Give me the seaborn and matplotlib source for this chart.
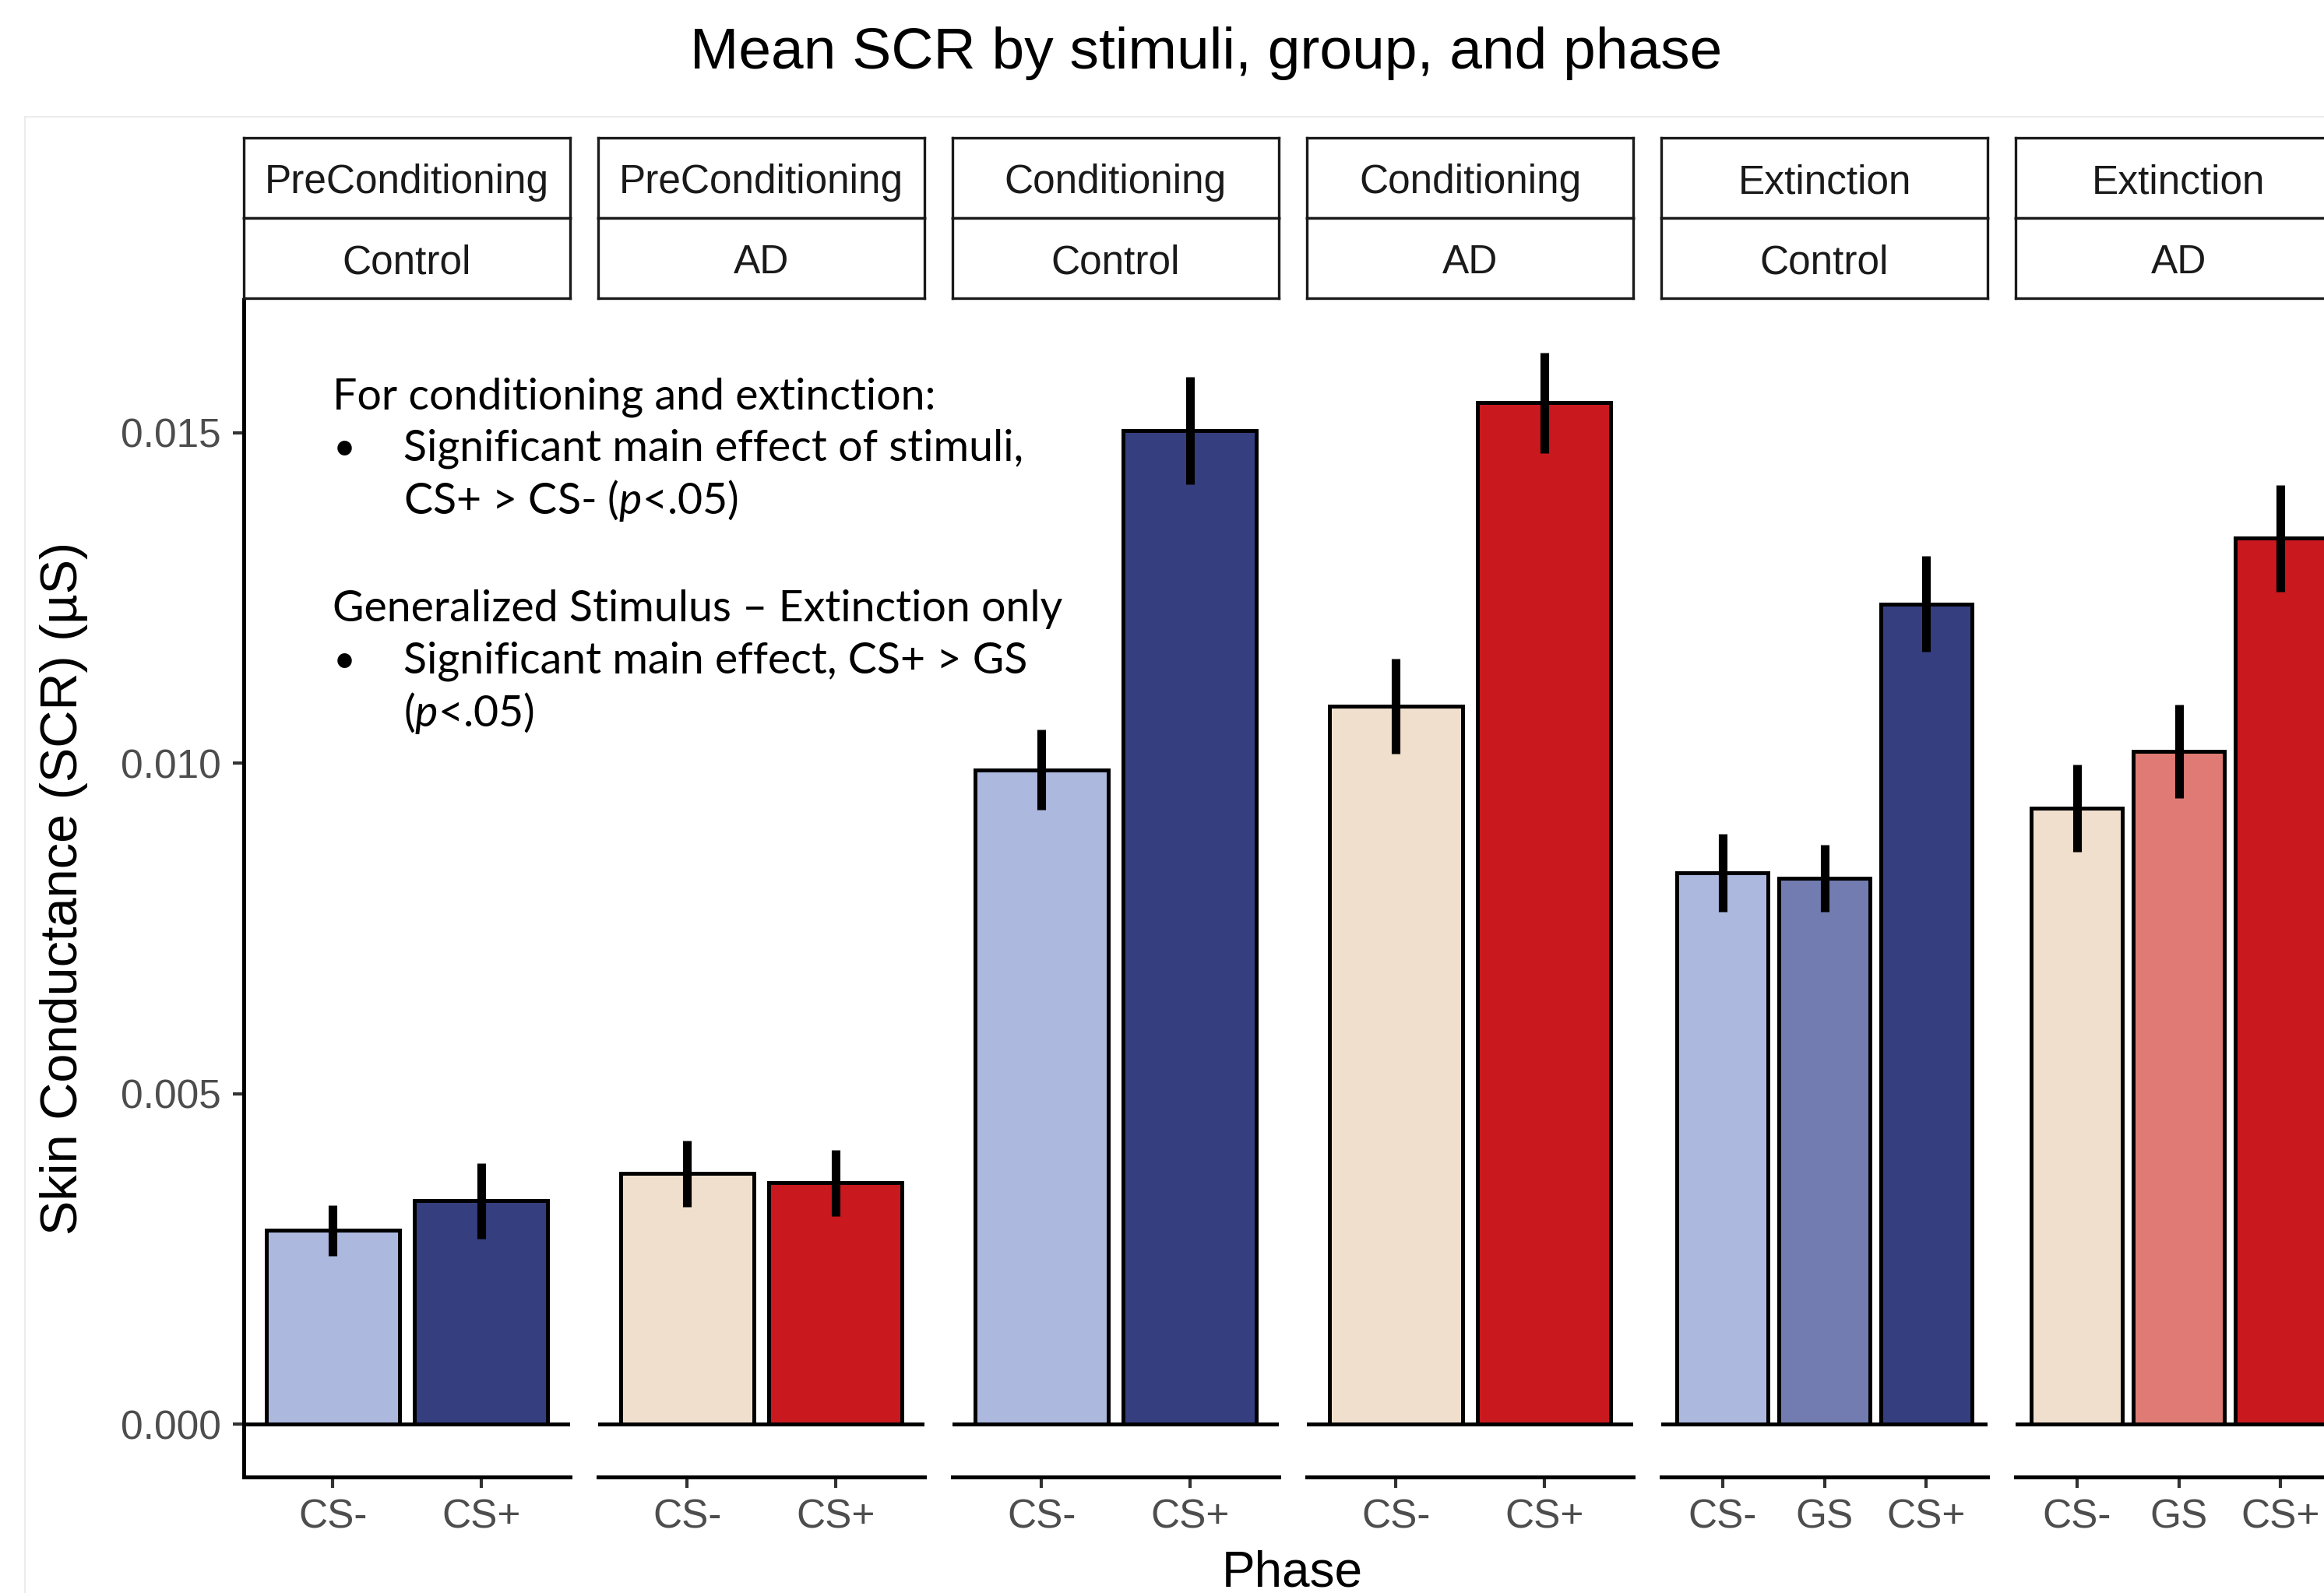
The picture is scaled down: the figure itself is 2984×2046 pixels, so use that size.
import numpy as np
import pandas as pd
import matplotlib
matplotlib.use("Agg")
import matplotlib.pyplot as plt
import seaborn as sns
from matplotlib.lines import Line2D

# data
phase_labels = ["PreConditioning", "PreConditioning", "Conditioning", "Conditioning", "Extinction", "Extinction"]
group_labels = ["Control", "AD", "Control", "AD", "Control", "AD"]
stimuli = [["CS-", "CS+"], ["CS-", "CS+"], ["CS-", "CS+"], ["CS-", "CS+"],
           ["CS-", "GS", "CS+"], ["CS-", "GS", "CS+"]]
mean_scr = [[0.00293, 0.00338], [0.00379, 0.00365], [0.00990, 0.01503], [0.01086, 0.01545],
            [0.00834, 0.00826, 0.01241], [0.00932, 0.01018, 0.01340]]
sem_scr = [[0.00038, 0.00057], [0.00050, 0.00050], [0.00061, 0.00081], [0.00072, 0.00076],
           [0.00059, 0.00051, 0.00072], [0.00066, 0.00071, 0.00081]]
y_ticks = [0.000, 0.005, 0.010, 0.015]

control_colors = {"CS-": "#adb8df", "GS": "#727cb0", "CS+": "#353f7f"}
ad_colors = {"CS-": "#f0dfcd", "GS": "#df7b74", "CS+": "#c9191e"}

sns.set_style("white")
plt.rcParams["font.family"] = ["Liberation Sans", "DejaVu Sans"]
plt.rcParams["text.color"] = "black"
plt.rcParams["mathtext.fontset"] = "custom"
plt.rcParams["mathtext.rm"] = "Lato"
plt.rcParams["mathtext.it"] = "Lato:italic"

W, H = 2984, 2046
fig = plt.figure(figsize=(W / 100, H / 100), dpi=100)

def fx(px):
    return px / W

def fy(py):
    return 1 - py / H

panel_w, step = 419, 455
top, bottom = 385, 1897

for i in range(6):
    left = 313 + step * i
    ax = fig.add_axes([fx(left), fy(bottom), fx(panel_w), (bottom - top) / H])
    df = pd.DataFrame({"stim": stimuli[i], "scr": mean_scr[i]})
    pal = control_colors if group_labels[i] == "Control" else ad_colors
    sns.barplot(data=df, x="stim", y="scr", hue="stim", palette=pal, width=0.9,
                saturation=1, edgecolor="black", linewidth=3.6, errorbar=None,
                legend=False, ax=ax)
    n = len(stimuli[i])
    ax.errorbar(np.arange(n), mean_scr[i], yerr=sem_scr[i], fmt="none",
                ecolor="black", elinewidth=8, capsize=0, zorder=6)
    ax.axhline(0, color="black", lw=3.6, zorder=5)
    ax.set_xlim(-0.6, n - 0.4)
    ax.set_ylim(-0.0008, 0.01701)
    ax.set_xlabel("")
    ax.set_ylabel("")
    for sp in ["top", "right"]:
        ax.spines[sp].set_visible(False)
    ax.spines["bottom"].set_linewidth(3.6)
    ax.spines["bottom"].set_color("black")
    ax.tick_params(axis="x", bottom=True, length=10, width=3, color="#333333",
                   labelsize=37, labelcolor="#4d4d4d", pad=10)
    if i == 0:
        ax.spines["left"].set_linewidth(3.6)
        ax.spines["left"].set_color("black")
        ax.set_yticks(y_ticks)
        ax.set_yticklabels([f"{t:.3f}" for t in y_ticks])
        ax.tick_params(axis="y", left=True, length=10, width=3, color="#333333",
                       labelsize=37, labelcolor="#4d4d4d", pad=11)
    else:
        ax.spines["left"].set_visible(False)
        ax.set_yticks([])

    # two stacked strips: phase on top, group below
    for label, y0 in [(phase_labels[i], 177), (group_labels[i], 280)]:
        sax = fig.add_axes([fx(left), fy(y0 + 103), fx(panel_w), 103 / H])
        sax.set_xticks([])
        sax.set_yticks([])
        for sp in sax.spines.values():
            sp.set_linewidth(2.4)
            sp.set_color("#1a1a1a")
        sax.text(0.5, 0.44, label, ha="center", va="center", fontsize=37,
                 color="#1a1a1a", transform=sax.transAxes)

fig.text(fx(1549), fy(88), "Mean SCR by stimuli, group, and phase",
         ha="center", va="baseline", fontsize=54)
fig.text(fx(82), fy(1141), "Skin Conductance (SCR) (\u00b5S)", rotation=90,
         ha="center", va="center", fontsize=48)
fig.text(fx(1659), fy(2037), "Phase", ha="center", va="baseline", fontsize=46)

# faint edge of the pasted plot
fig.add_artist(Line2D([fx(32), 1], [fy(150), fy(150)], color="#ececec", lw=1.5))
fig.add_artist(Line2D([fx(32), fx(32)], [fy(150), 0], color="#ececec", lw=1.5))

# annotation text
note_size = 40
notes = [
    (427, 525, "For conditioning and extinction:"),
    (518, 591, "Significant main effect of stimuli,"),
    (518, 660, "CS+ > CS- ($p$<.05)"),
    (427, 798, "Generalized Stimulus \u2013 Extinction only"),
    (518, 864, "Significant main effect, CS+ > GS"),
    (518, 933, "($p$<.05)"),
]
for x0, y0, txt in notes:
    fig.text(fx(x0), fy(y0), txt, family="Lato", fontsize=note_size, va="baseline")
for y0 in [591, 864]:
    fig.text(fx(428), fy(y0), "\u2022", family="Lato", fontsize=note_size - 4, va="baseline")

fig.savefig("out.png", dpi=100)
